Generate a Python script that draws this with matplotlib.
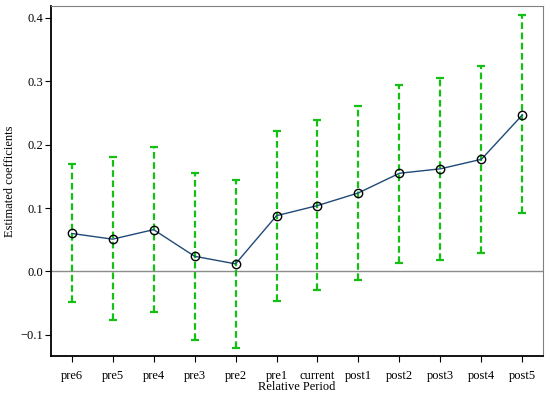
import matplotlib
matplotlib.use("Agg")
import matplotlib.pyplot as plt
import numpy as np

# event-study coefficients
periods = ["pre6", "pre5", "pre4", "pre3", "pre2", "pre1", "current",
           "post1", "post2", "post3", "post4", "post5"]
coef = [0.060, 0.051, 0.066, 0.024, 0.012, 0.088, 0.104,
        0.124, 0.155, 0.162, 0.177, 0.247]
ci_low = [-0.048, -0.077, -0.064, -0.108, -0.120, -0.046, -0.030,
          -0.013, 0.014, 0.018, 0.029, 0.092]
ci_high = [0.170, 0.181, 0.197, 0.156, 0.145, 0.222, 0.239,
           0.261, 0.294, 0.306, 0.325, 0.405]
yticks = [-0.1, 0.0, 0.1, 0.2, 0.3, 0.4]

plt.rcParams["font.family"] = ["Liberation Serif", "DejaVu Serif"]

x = np.arange(len(periods))
coef = np.array(coef)
lo = coef - np.array(ci_low)
hi = np.array(ci_high) - coef

fig, ax = plt.subplots(figsize=(5.5, 3.96), dpi=100)
fig.subplots_adjust(left=0.093, right=0.987, top=0.985, bottom=0.10)

ax.axhline(0, color="#8c8c8c", lw=1.0, zorder=1)

eb = ax.errorbar(x, coef, yerr=[lo, hi], fmt="none", ecolor="#13c013",
                 elinewidth=1.6, capsize=2.6, capthick=1.6, zorder=2)
eb[2][0].set_linestyle((0, (3.0, 1.6)))

ax.plot(x, coef, color="#1f4a78", lw=1.0, zorder=3)
ax.plot(x, coef, "o", ms=6, mfc="none", mec="black", mew=1.0, zorder=4)

ax.set_xlim(-0.5, 11.5)
ax.set_ylim(-0.134, 0.419)
ax.set_xticks(x)
ax.set_xticklabels(periods)
ax.set_yticks(yticks)
ax.set_yticklabels([f"{v:.1f}".replace("-", "\u2212") for v in yticks])
ax.tick_params(labelsize=9, length=4, width=0.8, direction="out")
ax.tick_params(axis="x", pad=6)
ax.tick_params(axis="y", pad=2)

ax.set_xlabel("Relative Period", fontsize=9, labelpad=-1)
ax.set_ylabel("Estimated coefficients", fontsize=9)
ax.yaxis.set_label_coords(-0.071, 0.5)

for s in ["left", "bottom"]:
    ax.spines[s].set_color("black")
    ax.spines[s].set_linewidth(1.3)
for s in ["top", "right"]:
    ax.spines[s].set_color("#808080")
    ax.spines[s].set_linewidth(0.8)

fig.savefig("out.png", dpi=100)
